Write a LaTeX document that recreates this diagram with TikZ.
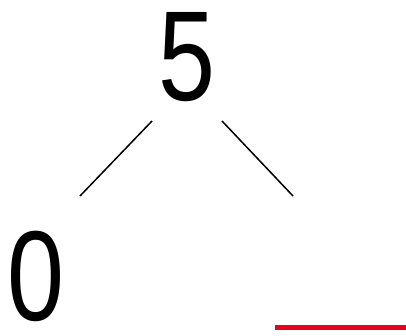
\documentclass[tikz,border=0pt]{standalone}
\usepackage{fontspec}
\setmainfont{Liberation Sans}
\newfontfamily\digitfont[FakeStretch=0.8]{Liberation Sans}
\begin{document}
\begin{tikzpicture}[x=1pt,y=-1pt,
  digit/.style={inner sep=0pt, anchor=base, text depth=0pt, text height=92pt, font=\digitfont\fontsize{128}{128}\selectfont},
  branch/.style={line width=1.5pt, black},
  blank/.style={line width=5pt, draw={rgb,255:red,230;green,0;blue,38}}]
\useasboundingbox (0,0) rectangle (406,336);
\node[digit] (top) at (186.5,101) {5};
\node[digit] (left) at (35.5,320) {0};
\coordinate (tl1) at (152,121);
\coordinate (tl2) at (80,196);
\coordinate (tr1) at (222,121);
\coordinate (tr2) at (293,196);
\draw[branch] (tl1) -- (tl2);
\draw[branch] (tr1) -- (tr2);
\coordinate (b1) at (275,327.5);
\coordinate (b2) at (406,327.5);
\draw[blank] (b1) -- (b2);
\end{tikzpicture}
\end{document}
